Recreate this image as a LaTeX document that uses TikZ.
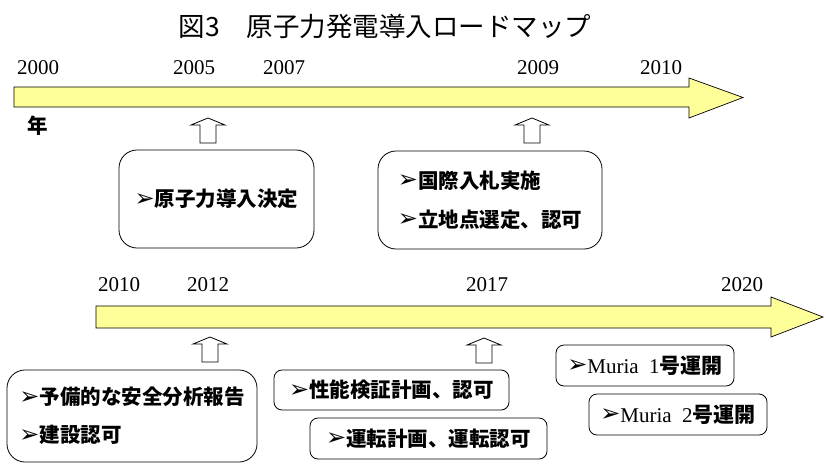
\documentclass[tikz,border=0pt]{standalone}
\usepackage{fontspec}
\setmainfont{Liberation Serif}
\newfontfamily\jp{Noto Sans CJK JP}
\newfontfamily\sym{DejaVu Sans}
\definecolor{arrowyellow}{RGB}{255,255,153}
\newcommand\bul{{\sym\mdseries\fontsize{24}{24}\selectfont\raisebox{0.5pt}{➢}}\hspace{0pt}}
\begin{document}
\begin{tikzpicture}[x=1pt,y=-1pt,
  bigbox/.style={draw, line width=0.8pt, rounded corners=18pt, inner sep=0pt},
  smallbox/.style={draw, line width=0.8pt, rounded corners=8pt, inner sep=0pt},
  jpt/.style={font=\jp\bfseries\fontsize{20.5}{39}\selectfont},
  yeartext/.style={font=\fontsize{21}{21}\selectfont, inner sep=0pt},
  timeline/.style={draw, line width=0.7pt, fill=arrowyellow},
  uparr/.pic={\draw[line width=0.8pt, fill=white] (-8,25) -- (-8,7) -- (-17,7) -- (0,0) -- (17,7) -- (8,7) -- (8,25) -- cycle;}
]
\useasboundingbox (0,0) rectangle (826,463);

% title
\node[font=\jp\fontsize{26.5}{26}\selectfont, inner sep=0pt] (title) at (385,26) {図3　原子力発電導入ロードマップ};

% top timeline
\draw[timeline] (14,87) -- (689,87) -- (689,78) -- (743,97.5) -- (689,118) -- (689,107) -- (14,107) -- cycle;
\node[yeartext] (y2000) at (38,68) {2000};
\node[yeartext] (y2005) at (194,68) {2005};
\node[yeartext] (y2007) at (284,68) {2007};
\node[yeartext] (y2009) at (538,68) {2009};
\node[yeartext] (y2010a) at (661,68) {2010};
\node[jpt, inner sep=0pt] (nen) at (38,126) {年};

\pic at (208,118) {uparr};
\pic at (532,118) {uparr};

\node[bigbox, jpt, minimum width=195pt, minimum height=98pt] (b1) at (216.5,199) {\bul 原子力導入決定};
\node[bigbox, jpt, minimum width=224pt, minimum height=98pt, align=left] (b2) at (490,200) {\bul 国際入札実施\\\bul 立地点選定、認可};

% bottom timeline
\draw[timeline] (96,306) -- (771,306) -- (771,297) -- (823,317) -- (771,337) -- (771,328) -- (96,328) -- cycle;
\node[yeartext] (y2010b) at (119,285) {2010};
\node[yeartext] (y2012) at (208,285) {2012};
\node[yeartext] (y2017) at (487,285) {2017};
\node[yeartext] (y2020) at (742,285) {2020};

\pic at (210,337) {uparr};
\pic at (484,338) {uparr};

\node[bigbox, jpt, minimum width=250pt, minimum height=92pt, align=left, font=\jp\bfseries\fontsize{20.5}{38}\selectfont] (b3) at (132,416) {\bul 予備的な安全分析報告\\\bul 建設認可};
\node[smallbox, jpt, minimum width=235pt, minimum height=40pt] (b4) at (391.5,390) {\bul 性能検証計画、認可};
\node[smallbox, jpt, minimum width=237pt, minimum height=41pt] (b5) at (428.5,438.5) {\bul 運転計画、運転認可};
\node[smallbox, minimum width=178pt, minimum height=41pt, font=\fontsize{21}{21}\selectfont] (b6) at (645,365.5) {\bul Muria~~1{\jp\bfseries 号運開}};
\node[smallbox, minimum width=178pt, minimum height=41pt, font=\fontsize{21}{21}\selectfont] (b7) at (678,414.5) {\bul Muria~~2{\jp\bfseries 号運開}};
\end{tikzpicture}
\end{document}
